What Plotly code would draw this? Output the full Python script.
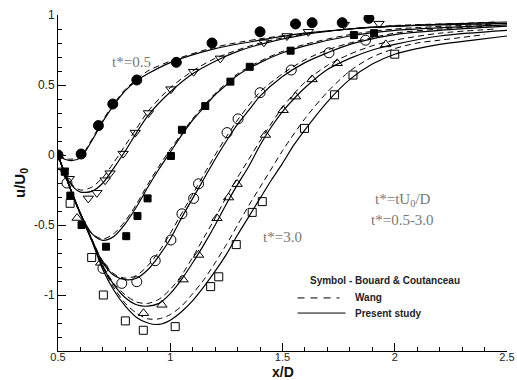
import plotly.graph_objects as go

# ---------------- data ----------------
# Experimental symbols: Bouard & Coutanceau
bc_t05_x = [0.5, 0.603, 0.68, 0.744, 0.851, 1.027, 1.186, 1.40, 1.558, 1.632, 1.766, 1.885]
bc_t05_y = [0.0, 0.007, 0.21, 0.364, 0.536, 0.662, 0.80, 0.88, 0.936, 0.945, 0.945, 0.976]

bc_t10_x = [0.525, 0.55, 0.635, 0.673, 0.71, 0.732, 0.79, 0.844, 0.903, 1.003, 1.104, 1.223, 1.417, 1.52, 1.615, 1.775, 1.93]
bc_t10_y = [-0.11, -0.17, -0.31, -0.27, -0.18, -0.13, 0.01, 0.16, 0.30, 0.47, 0.595, 0.69, 0.805, 0.85, 0.88, 0.93, 0.938]

bc_t15_x = [0.53, 0.555, 0.605, 0.714, 0.804, 0.854, 0.899, 1.003, 1.052, 1.156, 1.268, 1.354, 1.536, 1.818, 1.908]
bc_t15_y = [-0.12, -0.29, -0.50, -0.655, -0.58, -0.436, -0.31, -0.007, 0.18, 0.35, 0.524, 0.63, 0.745, 0.857, 0.87]

bc_t20_x = [0.54, 0.70, 0.784, 0.851, 0.933, 1.003, 1.052, 1.104, 1.126, 1.253, 1.302, 1.40, 1.539, 1.707, 1.87]
bc_t20_y = [-0.20, -0.81, -0.917, -0.905, -0.755, -0.607, -0.42, -0.31, -0.206, 0.16, 0.258, 0.445, 0.607, 0.73, 0.82]

bc_t25_x = [0.585, 0.69, 0.881, 0.963, 1.057, 1.126, 1.208, 1.26, 1.298, 1.424, 1.503, 1.558, 1.632, 1.744, 1.96]
bc_t25_y = [-0.45, -0.77, -1.13, -1.07, -0.89, -0.714, -0.452, -0.304, -0.208, 0.143, 0.32, 0.417, 0.54, 0.655, 0.79]

bc_t30_x = [0.554, 0.65, 0.702, 0.80, 0.88, 1.022, 1.18, 1.216, 1.294, 1.365, 1.41, 1.598, 1.732, 1.814, 2.0]
bc_t30_y = [-0.345, -0.732, -1.0, -1.185, -1.252, -1.226, -0.94, -0.87, -0.64, -0.41, -0.333, 0.19, 0.43, 0.571, 0.72]

# Present study (solid)
ps_t05_x = [0.5, 0.53, 0.56, 0.6, 0.65, 0.7, 0.75, 0.8, 0.85, 0.9, 1.0, 1.2, 1.4, 1.6, 1.8, 2.0, 2.5]
ps_t05_y = [0.0, -0.03, -0.04, -0.02, 0.10, 0.24, 0.36, 0.46, 0.53, 0.58, 0.66, 0.76, 0.82, 0.87, 0.90, 0.92, 0.95]

ps_t10_x = [0.5, 0.525, 0.55, 0.575, 0.6, 0.65, 0.7, 0.75, 0.8, 0.85, 0.9, 1.0, 1.1, 1.2, 1.3, 1.4, 1.6, 1.8, 2.0, 2.5]
ps_t10_y = [0.0, -0.11, -0.19, -0.24, -0.265, -0.26, -0.20, -0.09, 0.03, 0.16, 0.28, 0.45, 0.58, 0.67, 0.74, 0.79, 0.86, 0.90, 0.92, 0.94]

ps_t15_x = [0.5, 0.55, 0.6, 0.65, 0.7, 0.75, 0.8, 0.85, 0.9, 0.95, 1.0, 1.05, 1.1, 1.15, 1.2, 1.25, 1.3, 1.4, 1.5, 1.6, 1.8, 2.0, 2.5]
ps_t15_y = [0.0, -0.22, -0.42, -0.56, -0.61, -0.58, -0.49, -0.37, -0.23, -0.10, 0.02, 0.14, 0.25, 0.34, 0.43, 0.50, 0.57, 0.66, 0.73, 0.78, 0.85, 0.89, 0.93]

ps_t20_x = [0.5, 0.55, 0.6, 0.65, 0.7, 0.75, 0.8, 0.85, 0.9, 0.95, 1.0, 1.05, 1.1, 1.15, 1.2, 1.25, 1.3, 1.35, 1.4, 1.5, 1.6, 1.7, 1.8, 1.9, 2.0, 2.2, 2.5]
ps_t20_y = [0.0, -0.22, -0.42, -0.60, -0.77, -0.86, -0.89, -0.88, -0.82, -0.72, -0.60, -0.45, -0.31, -0.17, -0.03, 0.10, 0.22, 0.32, 0.42, 0.56, 0.66, 0.73, 0.79, 0.83, 0.86, 0.89, 0.92]

ps_t25_x = [0.5, 0.55, 0.6, 0.65, 0.7, 0.75, 0.8, 0.85, 0.9, 0.95, 1.0, 1.05, 1.1, 1.15, 1.2, 1.25, 1.3, 1.35, 1.4, 1.45, 1.5, 1.55, 1.6, 1.7, 1.8, 1.9, 2.0, 2.2, 2.5]
ps_t25_y = [0.0, -0.22, -0.42, -0.61, -0.80, -0.93, -1.02, -1.07, -1.08, -1.06, -0.99, -0.89, -0.77, -0.64, -0.50, -0.35, -0.21, -0.08, 0.07, 0.20, 0.31, 0.40, 0.48, 0.61, 0.69, 0.75, 0.79, 0.85, 0.89]

ps_t30_x = [0.5, 0.55, 0.6, 0.65, 0.7, 0.75, 0.8, 0.85, 0.9, 0.95, 1.0, 1.05, 1.1, 1.15, 1.2, 1.25, 1.3, 1.35, 1.4, 1.45, 1.5, 1.55, 1.6, 1.7, 1.8, 1.9, 2.0, 2.1, 2.2, 2.35, 2.5]
ps_t30_y = [0.0, -0.22, -0.42, -0.61, -0.82, -0.97, -1.08, -1.16, -1.20, -1.21, -1.18, -1.12, -1.04, -0.94, -0.83, -0.71, -0.57, -0.44, -0.31, -0.18, -0.06, 0.07, 0.18, 0.38, 0.54, 0.65, 0.72, 0.76, 0.79, 0.82, 0.85]

# Wang (dashed)
wg_t05_x = [0.5, 0.55, 0.6, 0.65, 0.7, 0.75, 0.8, 0.85, 0.9, 1.0, 1.2, 1.4, 1.6, 1.8, 2.0, 2.45]
wg_t05_y = [0.0, -0.03, -0.01, 0.11, 0.25, 0.37, 0.47, 0.54, 0.60, 0.67, 0.77, 0.83, 0.87, 0.90, 0.92, 0.95]

wg_t10_x = [0.5, 0.55, 0.6, 0.65, 0.7, 0.75, 0.8, 0.85, 0.9, 1.0, 1.1, 1.2, 1.4, 1.6, 1.8, 2.0, 2.45]
wg_t10_y = [0.0, -0.19, -0.25, -0.23, -0.16, -0.05, 0.07, 0.19, 0.31, 0.48, 0.60, 0.69, 0.80, 0.865, 0.90, 0.925, 0.945]

wg_t15_x = [0.5, 0.55, 0.6, 0.65, 0.7, 0.75, 0.8, 0.85, 0.9, 0.95, 1.0, 1.05, 1.1, 1.2, 1.3, 1.4, 1.5, 1.6, 1.8, 2.0, 2.45]
wg_t15_y = [0.0, -0.22, -0.43, -0.56, -0.60, -0.56, -0.47, -0.35, -0.21, -0.08, 0.04, 0.15, 0.26, 0.44, 0.58, 0.67, 0.74, 0.79, 0.86, 0.90, 0.935]

wg_t20_x = [0.5, 0.55, 0.6, 0.65, 0.7, 0.75, 0.8, 0.85, 0.9, 0.95, 1.0, 1.05, 1.1, 1.15, 1.2, 1.25, 1.3, 1.4, 1.5, 1.6, 1.7, 1.8, 2.0, 2.2, 2.45]
wg_t20_y = [0.0, -0.22, -0.42, -0.60, -0.76, -0.85, -0.88, -0.86, -0.79, -0.69, -0.56, -0.42, -0.28, -0.14, 0.0, 0.13, 0.25, 0.45, 0.58, 0.68, 0.75, 0.80, 0.87, 0.90, 0.925]

wg_t25_x = [0.5, 0.55, 0.6, 0.65, 0.7, 0.75, 0.8, 0.85, 0.9, 0.95, 1.0, 1.05, 1.1, 1.15, 1.2, 1.25, 1.3, 1.35, 1.4, 1.5, 1.6, 1.7, 1.8, 1.9, 2.0, 2.2, 2.45]
wg_t25_y = [0.0, -0.22, -0.42, -0.60, -0.79, -0.92, -1.00, -1.05, -1.06, -1.03, -0.96, -0.86, -0.73, -0.59, -0.45, -0.30, -0.16, -0.03, 0.10, 0.34, 0.52, 0.64, 0.72, 0.78, 0.82, 0.87, 0.90]

wg_t30_x = [0.5, 0.55, 0.6, 0.65, 0.7, 0.75, 0.8, 0.85, 0.9, 0.95, 1.0, 1.05, 1.1, 1.15, 1.2, 1.25, 1.3, 1.35, 1.4, 1.45, 1.5, 1.6, 1.7, 1.8, 1.9, 2.0, 2.1, 2.2, 2.4]
wg_t30_y = [0.0, -0.22, -0.42, -0.60, -0.80, -0.95, -1.06, -1.13, -1.17, -1.17, -1.14, -1.08, -0.99, -0.89, -0.77, -0.64, -0.50, -0.36, -0.23, -0.10, 0.03, 0.26, 0.45, 0.60, 0.70, 0.76, 0.80, 0.82, 0.86]

x_tick_vals = [0.5, 1, 1.5, 2, 2.5]
x_tick_text = ["0.5", "1", "1.5", "2", "2.5"]
y_tick_vals = [-1, -0.5, 0, 0.5, 1]
y_tick_text = ["-1", "-0.5", "0", "0.5", "1"]

# ---------------- figure ----------------
fig = go.Figure()

for xs, ys in [(wg_t05_x, wg_t05_y), (wg_t10_x, wg_t10_y), (wg_t15_x, wg_t15_y),
               (wg_t20_x, wg_t20_y), (wg_t25_x, wg_t25_y), (wg_t30_x, wg_t30_y)]:
    fig.add_trace(go.Scatter(x=xs, y=ys, mode="lines", showlegend=False,
                             line=dict(color="black", width=1, dash="6px,4px", shape="spline", smoothing=0.8)))

for xs, ys in [(ps_t05_x, ps_t05_y), (ps_t10_x, ps_t10_y), (ps_t15_x, ps_t15_y),
               (ps_t20_x, ps_t20_y), (ps_t25_x, ps_t25_y), (ps_t30_x, ps_t30_y)]:
    fig.add_trace(go.Scatter(x=xs, y=ys, mode="lines", showlegend=False,
                             line=dict(color="black", width=1.2, shape="spline", smoothing=0.8)))

marker_specs = [
    (bc_t05_x, bc_t05_y, "circle", 10, "black"),
    (bc_t10_x, bc_t10_y, "triangle-down-open", 9, "black"),
    (bc_t15_x, bc_t15_y, "square", 7, "black"),
    (bc_t20_x, bc_t20_y, "circle-open", 10, "black"),
    (bc_t25_x, bc_t25_y, "triangle-up-open", 9, "black"),
    (bc_t30_x, bc_t30_y, "square-open", 8, "black"),
]
for xs, ys, sym, sz, col in marker_specs:
    fig.add_trace(go.Scatter(x=xs, y=ys, mode="markers", showlegend=False,
                             marker=dict(symbol=sym, size=sz, color=col,
                                         line=dict(color="black", width=1))))

serif = "Liberation Serif, Times New Roman, serif"
sans = "Arial, Liberation Sans, sans-serif"
annots = [
    dict(x=0.826, y=0.664, text="t*=0.5", font=dict(family=serif, size=15, color="#777777")),
    dict(x=1.498, y=-0.586, text="t*=3.0", font=dict(family=serif, size=15, color="#777777")),
    dict(x=2.038, y=-0.321, text="t*=tU<sub>0</sub>/D", font=dict(family=serif, size=15, color="#777777")),
    dict(x=2.036, y=-0.464, text="t*=0.5-3.0", font=dict(family=serif, size=15, color="#777777")),
    dict(x=1.955, y=-0.893, text="<b>Symbol - Bouard &amp; Coutanceau</b>", font=dict(family=sans, size=10, color="#222222")),
    dict(x=1.8125, y=-1.021, text="<b>Wang</b>", xanchor="left", font=dict(family=sans, size=10, color="#222222")),
    dict(x=1.8125, y=-1.129, text="<b>Present study</b>", xanchor="left", font=dict(family=sans, size=10, color="#222222")),
]
for a in annots:
    a.setdefault("xanchor", "center")
    fig.add_annotation(xref="x", yref="y", showarrow=False, **a)

# x-axis title placed as a paper annotation hugging the bottom edge
fig.add_annotation(xref="paper", yref="paper", x=0.502, y=-30 / 336, xanchor="center", yanchor="bottom",
                   showarrow=False, text="<b>x/D</b>", borderpad=0,
                   font=dict(family=sans, size=14, color="#111111"))

fig.add_shape(type="line", xref="x", yref="y", x0=1.567, x1=1.754, y0=-1.021, y1=-1.021,
              line=dict(color="black", width=1, dash="7px,6px"))
fig.add_shape(type="line", xref="x", yref="y", x0=1.567, x1=1.781, y0=-1.129, y1=-1.129,
              line=dict(color="black", width=1))

fig.update_xaxes(range=[0.5, 2.5], tickvals=x_tick_vals, ticktext=x_tick_text, automargin=False,
                 ticks="inside", ticklen=8, tickwidth=1, tickcolor="black", ticklabelstandoff=-4,
                 minor=dict(dtick=0.1, ticks="inside", ticklen=4, tickcolor="black", tickwidth=1),
                 showline=True, linecolor="black", linewidth=1, showgrid=False, zeroline=False,
                 tickfont=dict(family=sans, size=11, color="#222222"))
fig.update_yaxes(range=[-1.4, 1], tickvals=y_tick_vals, ticktext=y_tick_text, automargin=False,
                 ticks="inside", ticklen=8, tickwidth=1, tickcolor="black",
                 minor=dict(dtick=0.1, ticks="inside", ticklen=4, tickcolor="black", tickwidth=1),
                 showline=True, linecolor="black", linewidth=1, showgrid=False, zeroline=False,
                 tickfont=dict(family=sans, size=12, color="#222222"),
                 title=dict(text="<b>u/U<sub>0</sub></b>", font=dict(family=sans, size=15, color="#111111"), standoff=4))

fig.update_layout(width=517, height=380, margin=dict(l=58, r=10, t=15, b=29),
                  plot_bgcolor="white", paper_bgcolor="white", showlegend=False)

fig.write_html("out.html", config={"displayModeBar": False},
               post_script="document.body.style.margin='0';document.body.style.overflow='hidden';")
